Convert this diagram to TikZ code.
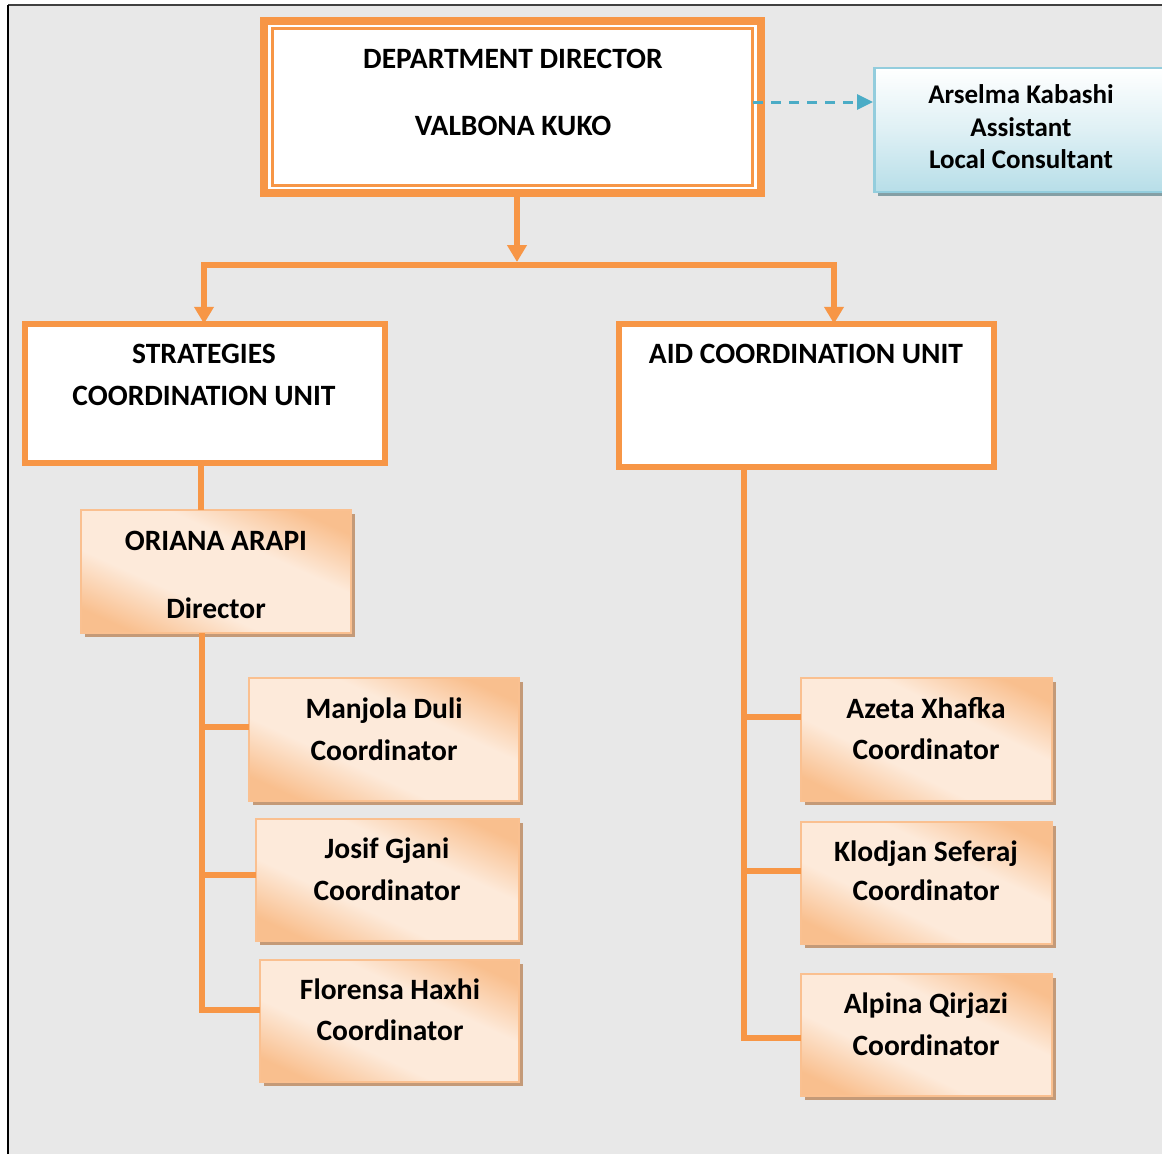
\documentclass[tikz,border=0pt]{standalone}
\usepackage{fontspec}
\setmainfont{Carlito}
\usetikzlibrary{arrows.meta,shadows}
\definecolor{orM}{HTML}{F79646}
\definecolor{gOr}{HTML}{F9BF8E}
\definecolor{gLt}{HTML}{FDEADA}
\definecolor{gBd}{HTML}{FAC090}
\definecolor{shB}{HTML}{C49A78}
\definecolor{bBd}{HTML}{93CDDD}
\definecolor{bFl}{HTML}{B7DEE8}
\definecolor{bSh}{HTML}{849FA5}
\definecolor{dashC}{HTML}{4BACC6}
\definecolor{bgC}{HTML}{E8E8E8}
\pgfdeclarehorizontalshading{orangediag}{100bp}{color(0bp)=(gOr); color(30bp)=(gOr); color(42bp)=(gLt); color(58bp)=(gLt); color(70bp)=(gOr); color(100bp)=(gOr)}
\newcommand\mygradbox[3]{%
  \pgfmathsetmacro\mydg{veclen(#2,#3)}%
  \pgfmathsetmacro\mydd{#2/\mydg*#3}%
  \pgfmathsetmacro\myang{atan2(#2,#3)}%
  \begin{scope}
    \clip (#1.north west) rectangle (#1.south east);
    \shade[shading=orangediag, transform canvas={shift={(#1.center)}, rotate=\myang}]
      (-\mydd pt,-\mydg pt) rectangle (\mydd pt,\mydg pt);
  \end{scope}
  \draw[gBd, line width=2.5pt] (#1.north west) rectangle (#1.south east);
}
\begin{document}
\begin{tikzpicture}[x=1pt,y=-1pt,
  every node/.style={outer sep=0pt},
  txt/.style={font=\bfseries\fontsize{29.5}{35}\selectfont, inner sep=0pt, text height=19pt, text depth=0pt, anchor=center},
  stxt/.style={font=\bfseries\fontsize{27}{32}\selectfont, inner sep=0pt, text height=17.4pt, text depth=0pt, anchor=center},
  unitbox/.style={draw=orM, line width=5.5pt, fill=white, inner sep=0pt, anchor=north west},
  pbox/.style 2 args={draw=gBd, line width=2.5pt, inner sep=0pt, anchor=north west,
     minimum width=#1pt, minimum height=#2pt, fill=gLt,
     drop shadow={shadow xshift=4pt, shadow yshift=-4pt, fill=shB, opacity=1}},
  conn/.style={draw=orM, line width=6pt},
  arr/.style={draw=orM, line width=6pt, -{Triangle[length=17pt,width=19pt]}}
]
\useasboundingbox (0,0) rectangle (1162,1154);
\fill[white] (0,0) rectangle (1162,1154);
\fill[bgC] (8,5) rectangle (1162,1154);
\draw[black!75, line width=1.2pt] (8,5) -- (1162,5);
\draw[black, line width=2.5pt] (8,1154) -- (8,5);

% director
\node[draw=orM, line width=8pt, fill=white, inner sep=0pt, anchor=north west,
      minimum width=497pt, minimum height=172pt] (dir) at (264,21) {};
\draw[orM, line width=3pt] (272.5,28.5) rectangle (752.5,185.5);
\node[txt] (dirt1) at (513,59) {DEPARTMENT DIRECTOR};
\node[txt] (dirt2) at (513,126) {VALBONA KUKO};

% assistant
\node[shade, top color=white, bottom color=bFl, middle color=bFl!45!white, draw=bBd, line width=2.5pt, inner sep=0pt, anchor=north west,
      minimum width=300pt, minimum height=124pt,
      drop shadow={shadow xshift=3.5pt, shadow yshift=-4pt, fill=bSh, opacity=1}] (asst) at (874.5,68) {};
\node[stxt] (a1) at (1021,95) {Arselma Kabashi};
\node[stxt] (a2) at (1021,128) {Assistant};
\node[stxt] (a3) at (1021,160) {Local Consultant};
\coordinate (dashs) at (753,102);
\coordinate (dashe) at (873,102);
\draw[dashC, line width=3pt, dash pattern=on 10pt off 8pt, -{Triangle[length=16pt,width=15pt]}] (dashs) -- (dashe);

% units
\node[unitbox, minimum width=360pt, minimum height=139pt] (strat) at (24.75,323.75) {};
\node[txt] (s1) at (204,354) {STRATEGIES};
\node[txt] (s2) at (204,396) {COORDINATION UNIT};
\node[unitbox, minimum width=375pt, minimum height=143pt] (aid) at (618.75,323.75) {};
\node[txt] (ai1) at (806,354) {AID COORDINATION UNIT};

% top connectors
\coordinate (jn) at (517,265);
\coordinate (jl) at (204,265);
\coordinate (jr) at (834,265);
\draw[arr] (dir.south -| jn) -- ([yshift=3pt]jn);
\draw[conn] ([xshift=-3pt]jl) -- ([xshift=3pt]jr);
\draw[arr] ([yshift=3pt]jl) -- (strat.north -| jl);
\draw[arr] ([yshift=3pt]jr) -- (aid.north -| jr);

% people boxes
\node[pbox={270}{123}] (ori) at (81,510) {};
\mygradbox{ori}{270}{123}
\node[txt] (o1) at (216,541) {ORIANA ARAPI};
\node[txt] (o2) at (216,609) {Director};

\node[pbox={270}{123}] (man) at (249,678) {};
\mygradbox{man}{270}{123}
\node[txt] (m1) at (384,709) {Manjola Duli};
\node[txt] (m2) at (384,751) {Coordinator};
\node[pbox={263}{122}] (jos) at (256,819) {};
\mygradbox{jos}{263}{122}
\node[txt] (j1) at (387,849) {Josif Gjani};
\node[txt] (j2) at (387,891) {Coordinator};
\node[pbox={259}{122}] (flo) at (260,960) {};
\mygradbox{flo}{259}{122}
\node[txt] (f1) at (390,990) {Florensa Haxhi};
\node[txt] (f2) at (390,1031) {Coordinator};

\node[pbox={251}{123}] (aze) at (801,678) {};
\mygradbox{aze}{251}{123}
\node[txt] (z1) at (926,709) {Azeta Xhafka};
\node[txt] (z2) at (926,750) {Coordinator};
\node[pbox={251}{122}] (klo) at (801,822) {};
\mygradbox{klo}{251}{122}
\node[txt] (k1) at (926,852) {Klodjan Seferaj};
\node[txt] (k2) at (926,891) {Coordinator};
\node[pbox={251}{122}] (alp) at (801,974) {};
\mygradbox{alp}{251}{122}
\node[txt] (l1) at (926,1004) {Alpina Qirjazi};
\node[txt] (l2) at (926,1046) {Coordinator};

% left tree
\coordinate (sx) at (201,0);
\draw[conn] (strat.south -| sx) -- (ori.north -| sx);
\coordinate (lx) at (202,0);
\coordinate (bm) at (202,727);
\coordinate (bj) at (202,875);
\coordinate (bf) at (202,1010);
\draw[conn] (ori.south -| lx) -- ([yshift=-3pt]bf) ;
\draw[conn] ([xshift=-3pt]bm) -- (man.west |- bm);
\draw[conn] ([xshift=-3pt]bj) -- (jos.west |- bj);
\draw[conn] ([xshift=-3pt]bf) -- (flo.west |- bf);

% right tree
\coordinate (rx) at (744,0);
\coordinate (bz) at (744,717);
\coordinate (bk) at (744,871);
\coordinate (bl) at (744,1038);
\draw[conn] (aid.south -| rx) -- ([yshift=-3pt]bl);
\draw[conn] ([xshift=-3pt]bz) -- (aze.west |- bz);
\draw[conn] ([xshift=-3pt]bk) -- (klo.west |- bk);
\draw[conn] ([xshift=-3pt]bl) -- (alp.west |- bl);
\end{tikzpicture}
\end{document}
